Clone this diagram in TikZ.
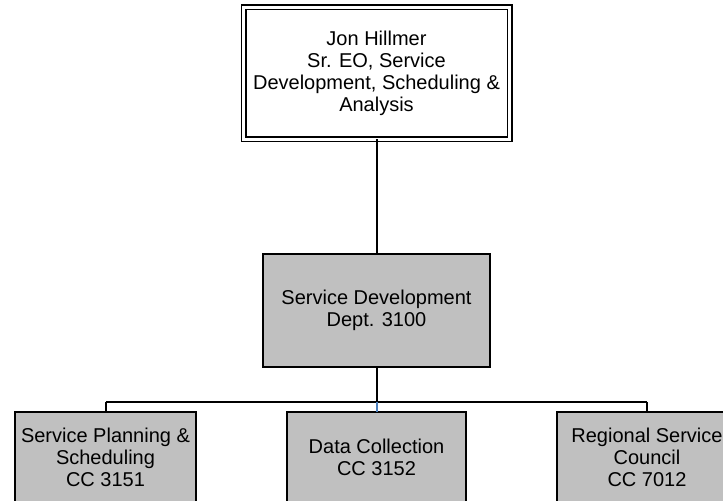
\documentclass[tikz,border=0pt]{standalone}
\usepackage{fontspec}
\setmainfont{Liberation Sans}
\definecolor{boxgray}{HTML}{C0C0C0}
\definecolor{selblue}{HTML}{4A7EBB}
\begin{document}
\begin{tikzpicture}[x=0.5pt,y=-0.5pt,
  every node/.style={font=\fontsize{10}{11}\selectfont, align=center, inner sep=0pt, outer sep=0pt},
  headbox/.style={draw=black, line width=0.8pt, double=white, double distance=1.4pt, fill=white,
    minimum width=133pt, minimum height=66pt},
  deptbox/.style={draw=black, line width=1pt, fill=boxgray, minimum width=113.5pt, minimum height=56.5pt},
  unitbox/.style={draw=black, line width=1pt, fill=boxgray, minimum width=90pt, minimum height=45pt},
  conn/.style={draw=black, line width=1pt}]
\useasboundingbox (0,0) rectangle (723,501);
\clip (0,0) rectangle (723,501);
\fill[white] (0,0) rectangle (723,501);

\node[headbox] (head) at (376.5,73.5) {Jon Hillmer\\Sr. EO, Service\\Development, Scheduling \&\\Analysis};
\node[deptbox] (dept) at (376.5,310.5) {Service Development\\Dept. 3100};
\node[unitbox, minimum width=90.5pt] (plan) at (105.5,457) {Service Planning \&\\Scheduling\\CC 3151};
\node[unitbox, minimum width=89.5pt] (data) at (376.5,457) {Data Collection\\CC 3152};
\node[unitbox] (reg) at (647,457) {Regional Service\\Council\\CC 7012};

\coordinate (j) at (376.5,402);
\coordinate (jl) at (plan.north |- j);
\coordinate (jr) at (reg.north |- j);

\draw[conn] (head.south) -- (dept.north);
\draw[conn] (dept.south) -- (j);
\draw[conn] (jl) -- (jr);
\draw[conn] (jl) -- (plan.north);
\draw[conn] (jr) -- (reg.north);
\draw[conn, draw=selblue] (j) -- (data.north);
\end{tikzpicture}
\end{document}
